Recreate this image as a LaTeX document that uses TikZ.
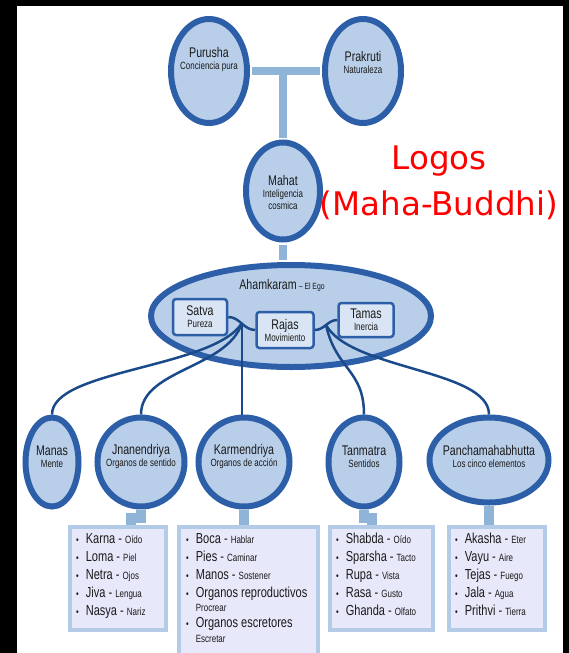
\documentclass[tikz,border=0pt]{standalone}
\usepackage{fontspec}
\setmainfont{Liberation Sans}[FakeStretch=0.76]
\newfontfamily\logofont{DejaVu Sans}
\usetikzlibrary{shapes}

\definecolor{orbline}{HTML}{2D5FA8}
\definecolor{orbfill}{HTML}{B9CFE9}
\definecolor{gunafill}{HTML}{D9E5F4}
\definecolor{barcol}{HTML}{8FB4D8}
\definecolor{linkcol}{HTML}{1B4A8A}
\definecolor{listline}{HTML}{B3CBE6}
\definecolor{listfill}{HTML}{E7E8F9}
\definecolor{ink}{HTML}{1A1A1A}

\newcommand{\ttl}[1]{{\fontsize{14}{15.5}\selectfont #1}}
\newcommand{\gloss}[1]{{\fontsize{10.5}{12}\selectfont #1}}
\newcommand{\pip}{{\fontsize{10}{18}\selectfont\textbullet}}
\newcommand{\organ}[2]{\pip & #1 - {\fontsize{10.5}{18}\selectfont #2}\\}

\begin{document}
\begin{tikzpicture}[x=1pt,y=-1pt,
  orb/.style={ellipse,draw=orbline,fill=orbfill,line width=6pt,inner sep=0pt},
  orbtext/.style={align=center,text=ink,inner sep=0pt},
  guna/.style={rectangle,rounded corners=3pt,draw=orbline,fill=gunafill,line width=2.5pt,inner sep=0pt,align=center,text=ink},
  bar/.style={draw=barcol,line width=8pt},
  link/.style={draw=linkcol,line width=2.5pt},
  stem/.style={draw=barcol,line width=10pt},
  listbox/.style={rectangle,draw=listline,fill=listfill,line width=4pt,inner sep=0pt},
  listtext/.style={anchor=north west,inner sep=0pt,text=ink,font=\fontsize{14.5}{18}\selectfont}]
\useasboundingbox (0,0) rectangle (569,653);
\fill[black] (0,0) rectangle (569,653);
\fill[white] (17,6) rectangle (563,653);

% top
\node[orb,minimum width=76pt,minimum height=104pt] (purusha) at (209,71) {};
\node[orbtext] (purushaT) at (209,60) {\ttl{Purusha}\\\gloss{Conciencia pura}};
\node[orb,minimum width=76pt,minimum height=104pt] (prakruti) at (363,71) {};
\node[orbtext] (prakrutiT) at (363,62) {\ttl{Prakruti}\\\gloss{Naturaleza}};
\node[orb,minimum width=74pt,minimum height=97pt] (mahat) at (283,191) {};
\node[orbtext] (mahatT) at (283,192) {\ttl{Mahat}\\\gloss{Inteligencia}\\\gloss{cosmica}};
\node[align=center,text=red,inner sep=0pt,font=\logofont\fontsize{32.5}{46}\selectfont] (logos) at (439,183) {Logos\\(Maha-Buddhi)};

\coordinate (fork) at (purusha.east -| mahat.north);
\draw[bar,shorten <=2pt,shorten >=2pt] (purusha.east) -- (prakruti.west);
\draw[bar,shorten >=2pt] (fork) -- (mahat.north);

% ego
\node[orb,minimum width=280pt,minimum height=102pt] (ego) at (291,316) {};
\node[orbtext] (egoT) at (282,285) {\ttl{Ahamkaram} {\fontsize{9}{10}\selectfont -- El Ego}};
\draw[bar,shorten <=2pt,shorten >=2pt] (mahat.south) -- (mahat.south |- ego.north);
\node[guna,minimum width=54pt,minimum height=36pt] (satva) at (200,317) {\ttl{Satva}\\\gloss{Pureza}};
\node[guna,minimum width=57pt,minimum height=36pt] (rajas) at (285,330) {\ttl{Rajas}\\\gloss{Movimiento}};
\node[guna,minimum width=55pt,minimum height=34pt] (tamas) at (366,320) {\ttl{Tamas}\\\gloss{Inercia}};
\draw[link] (satva.east) to[out=0,in=180] coordinate[pos=.5] (sj) (rajas.west);
\draw[link] (rajas.east) to[out=0,in=180] coordinate[pos=.5] (tj) (tamas.west);

% second row
\node[orb,minimum width=53pt,minimum height=89pt] (manas) at (52,462) {};
\node[orbtext] (manasT) at (52,457) {\ttl{Manas}\\\gloss{Mente}};
\node[orb,minimum width=87pt,minimum height=89pt] (jnan) at (141,462) {};
\node[orbtext] (jnanT) at (141,457) {\ttl{Jnanendriya}\\\gloss{Organos de sentido}};
\node[orb,minimum width=91pt,minimum height=89pt] (karm) at (244,462) {};
\node[orbtext] (karmT) at (244,457) {\ttl{Karmendriya}\\\gloss{Organos de acci\'on}};
\node[orb,minimum width=71pt,minimum height=89pt] (tanm) at (364,462) {};
\node[orbtext] (tanmT) at (364,457) {\ttl{Tanmatra}\\\gloss{Sentidos}};
\node[orb,minimum width=119pt,minimum height=85pt] (pancha) at (489,460) {};
\node[orbtext] (panchaT) at (489,456) {\ttl{Panchamahabhutta}\\\gloss{Los cinco elementos}};

\draw[link] (sj) .. controls +(-30,45) and +(0,-45) .. (manas.north);
\draw[link] (sj) .. controls +(-15,45) and +(0,-45) .. (jnan.north);
\draw[link] (sj) -- (sj |- karm.north);
\draw[link] (tj) .. controls +(10,45) and +(0,-45) .. (tanm.north);
\draw[link] (tj) .. controls +(25,45) and +(0,-45) .. (pancha.north);

% lists
\node[listbox,minimum width=96pt,minimum height=103pt] (jbox) at (118,578.5) {};
\node[listbox,minimum width=139pt,minimum height=136pt] (kbox) at (248.5,595) {};
\node[listbox,minimum width=103pt,minimum height=103pt] (tbox) at (381.5,578.5) {};
\node[listbox,minimum width=96pt,minimum height=103pt] (pbox) at (497,578.5) {};

\draw[stem] (jnan.south) -- ++(0,8) -| ([xshift=-10pt]jnan.south |- jbox.north);
\draw[stem] (karm.south) -- (karm.south |- kbox.north);
\draw[stem] (tanm.south) -- ++(0,8) -| ([xshift=8pt]tanm.south |- tbox.north);
\draw[stem] (pancha.south) -- (pancha.south |- pbox.north);

\node[listtext] (jlist) at (76,531) {\begin{tabular}{@{}l@{\hspace{7pt}}l@{}}
\organ{Karna}{O\'ido}
\organ{Loma}{Piel}
\organ{Netra}{Ojos}
\organ{Jiva}{Lengua}
\organ{Nasya}{Nariz}
\end{tabular}};
\node[listtext] (klist) at (186,531) {\begin{tabular}{@{}l@{\hspace{7pt}}l@{}}
\organ{Boca}{Hablar}
\organ{Pies}{Caminar}
\organ{Manos}{Sostener}
\pip & Organos reproductivos\\[-4pt]
 & \gloss{Procrear}\\[-2pt]
\pip & Organos escretores\\[-3pt]
 & \gloss{Escretar}\\
\end{tabular}};
\node[listtext] (tlist) at (336,531) {\begin{tabular}{@{}l@{\hspace{7pt}}l@{}}
\organ{Shabda}{O\'ido}
\organ{Sparsha}{Tacto}
\organ{Rupa}{Vista}
\organ{Rasa}{Gusto}
\organ{Ghanda}{Olfato}
\end{tabular}};
\node[listtext] (plist) at (455,531) {\begin{tabular}{@{}l@{\hspace{7pt}}l@{}}
\organ{Akasha}{Eter}
\organ{Vayu}{Aire}
\organ{Tejas}{Fuego}
\organ{Jala}{Agua}
\organ{Prithvi}{Tierra}
\end{tabular}};
\end{tikzpicture}
\end{document}
